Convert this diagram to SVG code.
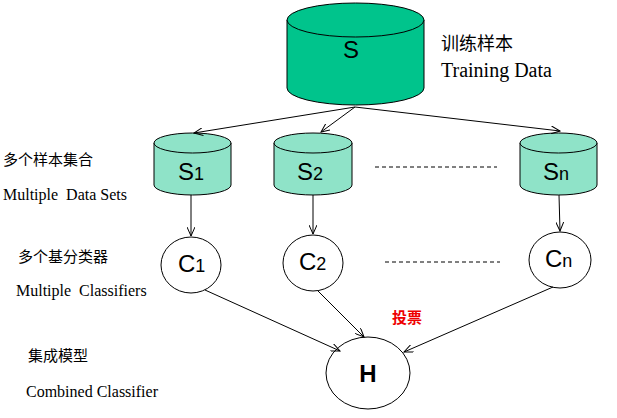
<svg xmlns="http://www.w3.org/2000/svg" width="617" height="418" viewBox="0 0 617 418">
<defs>
<marker id="a" markerWidth="10" markerHeight="8" refX="9" refY="4" orient="auto" markerUnits="userSpaceOnUse"><path d="M0,0 L9,4 L0,8" fill="none" stroke="#000" stroke-width="1"/></marker>
</defs>
<style>
.big{fill:#00C48C;stroke:#000;stroke-width:1}
.sm{fill:#8FE3C8;stroke:#000;stroke-width:1}
.c{fill:#fff;stroke:#000;stroke-width:1}
.l{stroke:#000;stroke-width:1;fill:none;marker-end:url(#a)}
.d{stroke:#000;stroke-width:1;stroke-dasharray:4,3}
.t{font-family:"Liberation Sans",sans-serif;font-size:24px;fill:#000}
.cn{font-family:"Noto Sans CJK SC",sans-serif;font-size:15px;fill:#000}
.en{font-family:"Liberation Serif",serif;font-size:16px;fill:#000;white-space:pre}
</style>
<rect width="617" height="418" fill="#fff"/>
<g id="S"><path class="big" d="M287,20 V88 A68.5,17 0 0 0 424,88 V20"/><ellipse class="big" cx="355.5" cy="20" rx="68.5" ry="17"/><text class="t" x="351" y="58" text-anchor="middle">S</text></g>
<g id="S1"><path class="sm" d="M154,143 V185 A38.5,10 0 0 0 231,185 V143"/><ellipse class="sm" cx="192.5" cy="143" rx="38.5" ry="10"/><text class="t" x="178" y="180">S<tspan style="font-size:18px">1</tspan></text></g>
<g id="S2"><path class="sm" d="M274,143 V185 A39,10 0 0 0 352,185 V143"/><ellipse class="sm" cx="313" cy="143" rx="39" ry="10"/><text class="t" x="297" y="180">S<tspan style="font-size:18px">2</tspan></text></g>
<g id="Sn"><path class="sm" d="M520,143 V185 A38.5,10 0 0 0 597,185 V143"/><ellipse class="sm" cx="558.5" cy="143" rx="38.5" ry="10"/><text class="t" x="543" y="180">S<tspan style="font-size:18px">n</tspan></text></g>
<g id="C1"><ellipse class="c" cx="191" cy="265" rx="30" ry="28"/><text class="t" x="178" y="272">C<tspan style="font-size:18px">1</tspan></text></g>
<g id="C2"><ellipse class="c" cx="313" cy="263" rx="30" ry="28"/><text class="t" x="299" y="270">C<tspan style="font-size:18px">2</tspan></text></g>
<g id="Cn"><ellipse class="c" cx="560" cy="260" rx="31" ry="28"/><text class="t" x="545" y="267">C<tspan style="font-size:18px">n</tspan></text></g>
<g id="H"><ellipse class="c" cx="368" cy="373" rx="42" ry="36"/><text class="t" x="368" y="382" text-anchor="middle" style="font-weight:bold">H</text></g>
<g id="connectors">
<line class="l" x1="355" y1="107" x2="194" y2="133"/>
<line class="l" x1="355" y1="107" x2="321" y2="132"/>
<line class="l" x1="355" y1="107" x2="560" y2="131"/>
<line class="l" x1="191" y1="195" x2="191" y2="236"/>
<line class="l" x1="313" y1="195" x2="313" y2="234"/>
<line class="l" x1="559" y1="195" x2="560" y2="231"/>
<line class="l" x1="205" y1="290" x2="340" y2="351"/>
<line class="l" x1="318" y1="291" x2="364" y2="337"/>
<line class="l" x1="553" y1="287" x2="404" y2="352"/>
<line class="d" x1="375" y1="167" x2="497" y2="167"/>
<line class="d" x1="385" y1="262" x2="500" y2="262"/>
</g>
<g id="labels">
<text class="cn" x="441" y="50" style="font-size:18px">训练样本</text>
<text class="en" x="441" y="77" style="font-size:20px">Training Data</text>
<text class="cn" x="3" y="165">多个样本集合</text>
<text class="en" x="3" y="200">Multiple  Data Sets</text>
<text class="cn" x="18" y="262">多个基分类器</text>
<text class="en" x="16" y="296">Multiple  Classifiers</text>
<text class="cn" x="392" y="323" style="fill:#e00;font-weight:bold">投票</text>
<text class="cn" x="28" y="361">集成模型</text>
<text class="en" x="26" y="397">Combined Classifier</text>
</g>
</svg>
